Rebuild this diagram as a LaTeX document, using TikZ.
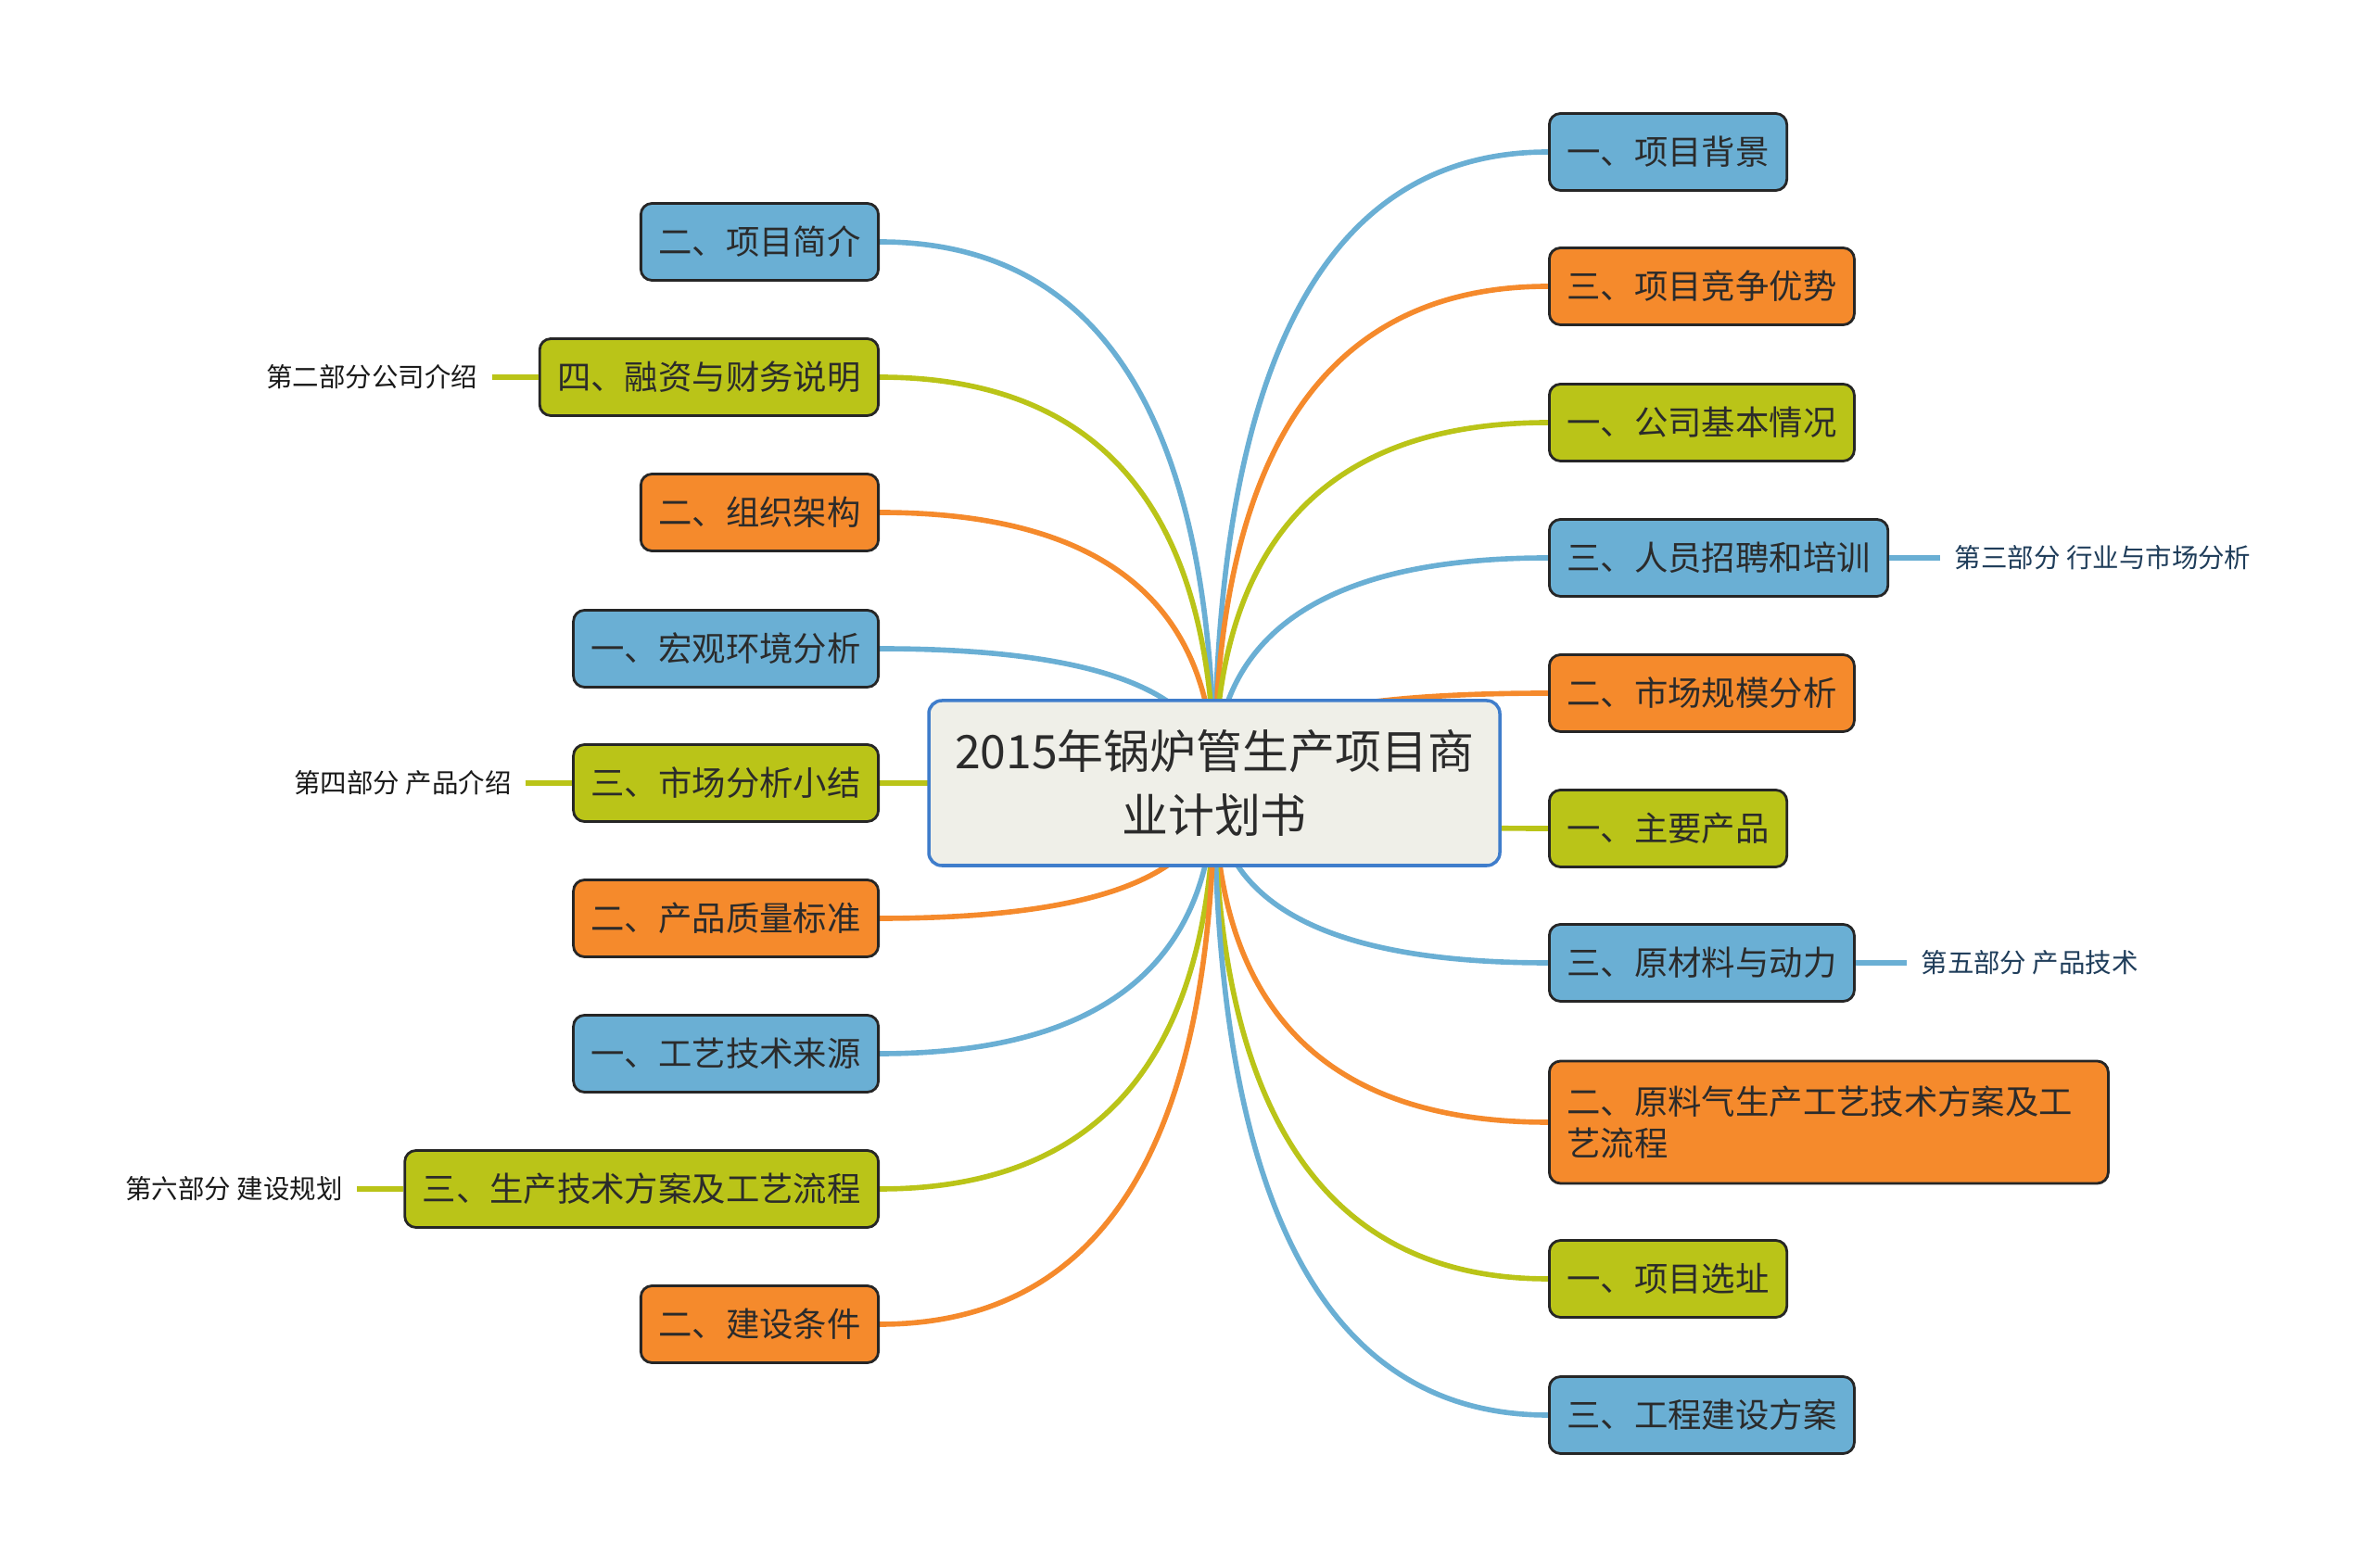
\documentclass[tikz,border=0pt]{standalone}
\usepackage{fontspec}
\setmainfont{Noto Sans CJK SC}
\usetikzlibrary{positioning,calc,backgrounds}

\definecolor{mblue}{HTML}{6AAFD4}
\definecolor{morange}{HTML}{F58A2C}
\definecolor{mgreen}{HTML}{BAC418}
\definecolor{rootfill}{HTML}{EFEFE8}
\definecolor{rootline}{HTML}{3F7DCB}
\definecolor{textgray}{HTML}{2B2B2B}
\definecolor{notenavy}{HTML}{1F3D5A}

\begin{document}
\begin{tikzpicture}[
    font=\fontsize{10.35}{13}\selectfont,
    root/.style={
        draw=rootline,
        line width=1pt,
        fill=rootfill,
        rounded corners=0.14cm,
        minimum width=6.16cm,
        minimum height=1.78cm,
        align=center,
        text=textgray,
        font=\fontsize{14.2}{19.5}\selectfont
    },
    topic/.style={
        draw=black!85,
        line width=0.8pt,
        rounded corners=0.12cm,
        minimum height=0.83cm,
        inner xsep=0.19cm,
        text=textgray
    },
    bluetopic/.style={topic, fill=mblue},
    orangetopic/.style={topic, fill=morange},
    greentopic/.style={topic, fill=mgreen},
    note/.style={
        inner xsep=0.15cm,
        text=black!90,
        font=\fontsize{8.1}{10}\selectfont
    },
    branch/.style={
        line width=1.6pt,
        to path={.. controls ($(\tikztostart)!0.667!(\tikztostart |- \tikztotarget)$)
                 and ($(\tikztotarget)!0.667!(\tikztostart |- \tikztotarget)$) .. (\tikztotarget)}
    },
    stub/.style={line width=1.6pt}
]
    \useasboundingbox (0,0) rectangle (25.6,16.91);

    \node[root] (root) at (13.10,8.46)
        {2015年锅炉管生产项目商\\业计划书};

    % right side
    \node[bluetopic,anchor=west] (beijing) at (16.70,15.27) {一、项目背景};
    \node[orangetopic,anchor=west] (youshi) at (16.70,13.82) {三、项目竞争优势};
    \node[greentopic,anchor=west] (jiben) at (16.70,12.35) {一、公司基本情况};
    \node[bluetopic,anchor=west] (zhaopin) at (16.70,10.89) {三、人员招聘和培训};
    \node[orangetopic,anchor=west] (guimo) at (16.70,9.43) {二、市场规模分析};
    \node[greentopic,anchor=west] (chanpin) at (16.70,7.97) {一、主要产品};
    \node[bluetopic,anchor=west] (yuancai) at (16.70,6.52) {三、原材料与动力};
    \node[orangetopic,anchor=west,text width=5.65cm,align=left,minimum height=1.32cm] (yuanliao) at (16.70,4.80)
        {二、原料气生产工艺技术方案及工\\艺流程};
    \node[greentopic,anchor=west] (xuanzhi) at (16.70,3.11) {一、项目选址};
    \node[bluetopic,anchor=west] (gongcheng) at (16.70,1.64) {三、工程建设方案};

    % left side
    \node[bluetopic,anchor=east] (jianjie) at (9.49,14.30) {二、项目简介};
    \node[greentopic,anchor=east] (rongzi) at (9.49,12.84) {四、融资与财务说明};
    \node[orangetopic,anchor=east] (jiagou) at (9.49,11.38) {二、组织架构};
    \node[bluetopic,anchor=east] (hongguan) at (9.49,9.91) {一、宏观环境分析};
    \node[greentopic,anchor=east] (xiaojie) at (9.49,8.46) {三、市场分析小结};
    \node[orangetopic,anchor=east] (zhiliang) at (9.49,7.00) {二、产品质量标准};
    \node[bluetopic,anchor=east] (laiyuan) at (9.49,5.54) {一、工艺技术来源};
    \node[greentopic,anchor=east] (shengchan) at (9.49,4.08) {三、生产技术方案及工艺流程};
    \node[orangetopic,anchor=east] (tiaojian) at (9.49,2.62) {二、建设条件};

    % part labels
    \node[note,left=0.5cm of rongzi] (bufen2) {第二部分公司介绍};
    \node[note,right=0.55cm of zhaopin,text=notenavy] (bufen3) {第三部分 行业与市场分析};
    \node[note,left=0.5cm of xiaojie] (bufen4) {第四部分 产品介绍};
    \node[note,right=0.55cm of yuancai,text=notenavy] (bufen5) {第五部分 产品技术};
    \node[note,left=0.5cm of shengchan] (bufen6) {第六部分 建设规划};

    \draw[stub,mgreen] (rongzi.west) -- (bufen2.east);
    \draw[stub,mblue] (zhaopin.east) -- (bufen3.west);
    \draw[stub,mgreen] (xiaojie.west) -- (bufen4.east);
    \draw[stub,mblue] (yuancai.east) -- (bufen5.west);
    \draw[stub,mgreen] (shengchan.west) -- (bufen6.east);

    \begin{scope}[on background layer]
        \draw[branch,mblue] (root.center) to (beijing.west);
        \draw[branch,morange] (root.center) to (youshi.west);
        \draw[branch,mgreen] (root.center) to (jiben.west);
        \draw[branch,mblue] (root.center) to (zhaopin.west);
        \draw[branch,morange] (root.center) to (guimo.west);
        \draw[branch,mgreen] (root.center) to (chanpin.west);
        \draw[branch,mblue] (root.center) to (yuancai.west);
        \draw[branch,morange] (root.center) to (yuanliao.west);
        \draw[branch,mgreen] (root.center) to (xuanzhi.west);
        \draw[branch,mblue] (root.center) to (gongcheng.west);

        \draw[branch,mblue] (root.center) to (jianjie.east);
        \draw[branch,mgreen] (root.center) to (rongzi.east);
        \draw[branch,morange] (root.center) to (jiagou.east);
        \draw[branch,mblue] (root.center) to (hongguan.east);
        \draw[branch,mgreen] (root.center) to (xiaojie.east);
        \draw[branch,morange] (root.center) to (zhiliang.east);
        \draw[branch,mblue] (root.center) to (laiyuan.east);
        \draw[branch,mgreen] (root.center) to (shengchan.east);
        \draw[branch,morange] (root.center) to (tiaojian.east);
    \end{scope}
\end{tikzpicture}
\end{document}
